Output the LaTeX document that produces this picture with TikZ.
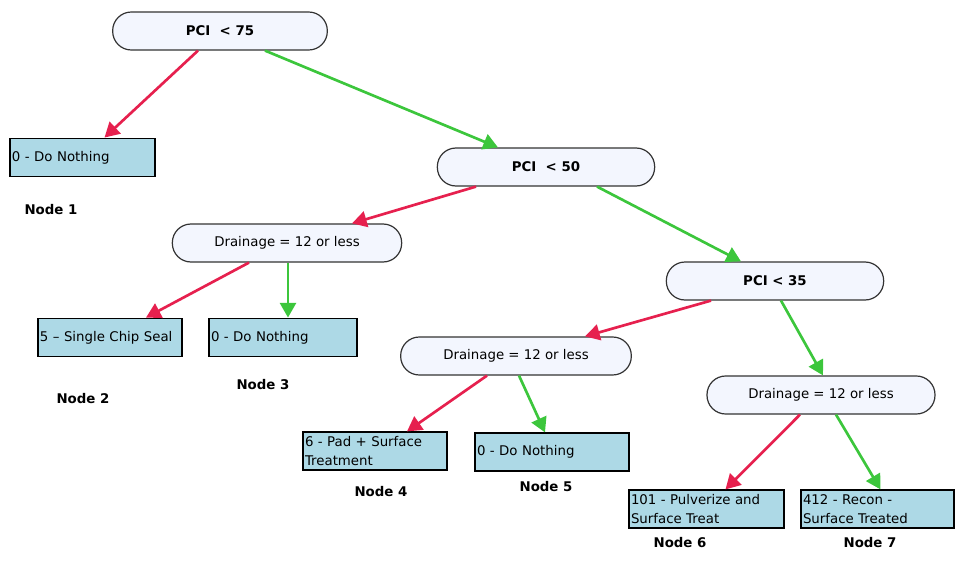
\documentclass[tikz,border=0pt]{standalone}
\usepackage{fontspec}
\setmainfont{DejaVu Sans}
\usetikzlibrary{arrows.meta,calc}
\definecolor{nored}{HTML}{E6204E}
\definecolor{yesgreen}{HTML}{3CC63C}
\definecolor{boxblue}{HTML}{ADD9E6}
\definecolor{decfill}{HTML}{F3F6FE}
\begin{document}
\begin{tikzpicture}[x=0.75pt,y=-0.75pt,
  decision/.style={draw=black!80,fill=decfill,line width=0.9pt,rounded corners=14pt,
    minimum height=28.5pt,inner sep=0pt,font=\fontsize{10}{12}\selectfont},
  leaf/.style={draw=black,fill=boxblue,line width=0.9pt,minimum height=28.5pt,
    inner sep=1.5pt,align=left,font=\fontsize{10}{14}\selectfont},
  nodelabel/.style={font=\fontsize{10}{12}\selectfont\bfseries,inner sep=0pt},
  noedge/.style={draw=nored,line width=2pt,-{Triangle[length=11pt,width=12pt]}},
  yesedge/.style={draw=yesgreen,line width=2pt,-{Triangle[length=11pt,width=12pt]}}]
\useasboundingbox (0,0) rectangle (958,564);
% decisions
\node[decision,minimum width=161pt] (d75) at (220,31) {\textbf{PCI\ \ <\ 75}};
\node[decision,minimum width=163pt] (d50) at (546,167) {\textbf{PCI\ \ <\ 50}};
\node[decision,minimum width=172pt] (dl) at (287,243) {Drainage\ =\ 12 or less};
\node[decision,minimum width=163pt] (d35) at (775,281) {\textbf{PCI\ <\ 35}};
\node[decision,minimum width=173pt] (dm) at (516,356) {Drainage\ =\ 12 or less};
\node[decision,minimum width=171pt] (dr) at (821,395) {Drainage\ =\ 12 or less};
% leaves
\node[leaf,text width=105.75pt,minimum height=29pt] (n1) at (82.5,157.5) {0 - Do Nothing};
\node[leaf,text width=105pt,minimum height=29pt] (n2) at (110,337.5) {5 -- Single Chip Seal};
\node[leaf,text width=108pt,minimum height=29pt] (n3) at (283,337.5) {0 - Do Nothing};
\node[leaf,text width=105pt] (n4) at (375,451) {6 - Pad + Surface\\Treatment};
\node[leaf,text width=112.5pt] (n5) at (552,452) {0 - Do Nothing};
\node[leaf,text width=113.25pt] (n6) at (706.5,509) {101 - Pulverize and\\Surface Treat};
\node[leaf,text width=111.75pt] (n7) at (877.5,509) {412 - Recon -\\Surface Treated};
% labels
\node[nodelabel] (l1) at (51,210) {Node 1};
\node[nodelabel] (l2) at (83,399) {Node 2};
\node[nodelabel] (l3) at (263,385) {Node 3};
\node[nodelabel] (l4) at (381,492) {Node 4};
\node[nodelabel] (l5) at (546,487) {Node 5};
\node[nodelabel] (l6) at (680,543) {Node 6};
\node[nodelabel] (l7) at (870,543) {Node 7};
% edges
\draw[noedge] ($(d75.south)+(-22,0)$) -- ($(n1.north)+(22,0)$);
\draw[yesedge] ($(d75.south)+(45,0)$) -- ($(d50.north)+(-48,0)$);
\draw[noedge] ($(d50.south)+(-70,0)$) -- ($(dl.north)+(65,0)$);
\draw[yesedge] ($(d50.south)+(51,0)$) -- ($(d35.north)+(-34,0)$);
\draw[noedge] ($(dl.south)+(-38,0)$) -- ($(n2.north)+(36,0)$);
\draw[yesedge] ($(dl.south)+(1,0)$) -- ($(n3.north)+(5,0)$);
\draw[noedge] ($(d35.south)+(-64,0)$) -- ($(dm.north)+(69,0)$);
\draw[yesedge] ($(d35.south)+(6,0)$) -- ($(dr.north)+(2,0)$);
\draw[noedge] ($(dm.south)+(-29,0)$) -- ($(n4.north)+(32,0)$);
\draw[yesedge] ($(dm.south)+(3,0)$) -- ($(n5.north)+(-7,0)$);
\draw[noedge] ($(dr.south)+(-21,0)$) -- ($(n6.north)+(19,0)$);
\draw[yesedge] ($(dr.south)+(15,0)$) -- ($(n7.north)+(3,0)$);
\end{tikzpicture}
\end{document}
